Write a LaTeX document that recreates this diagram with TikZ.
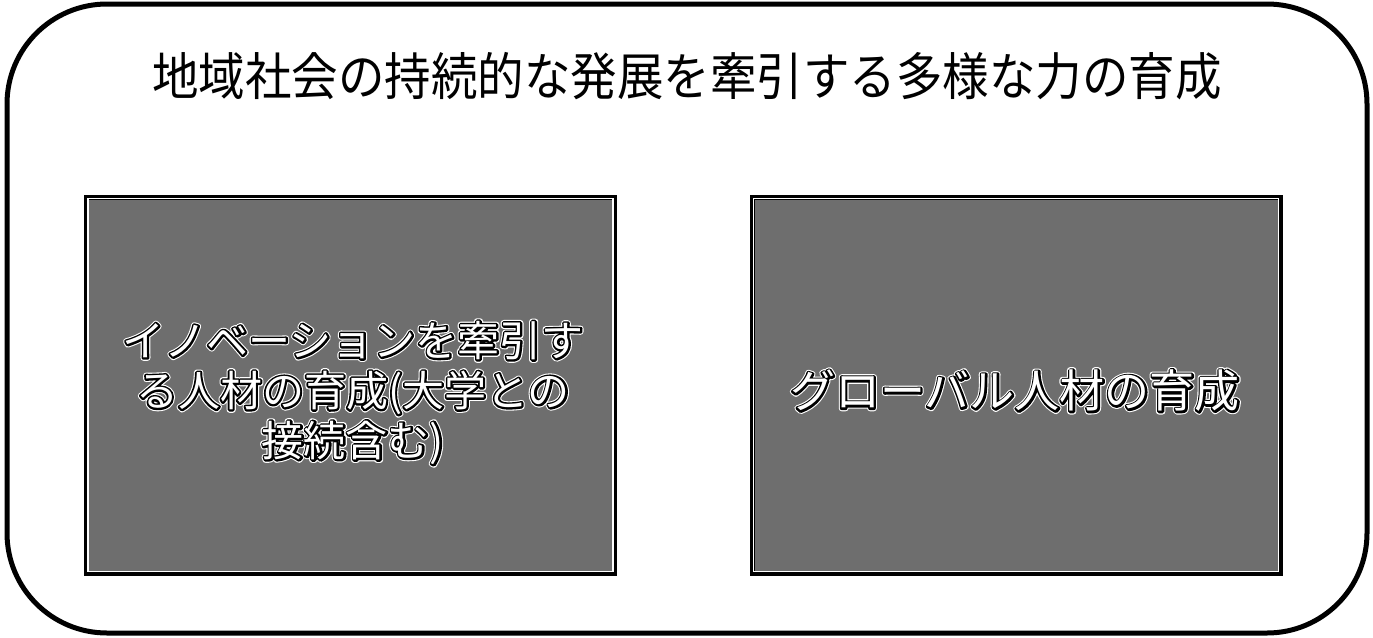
\documentclass[tikz,border=0pt]{standalone}
\usepackage{fontspec}
\newfontfamily\cjk{Noto Sans CJK JP}
\newcommand\strk[3]{\rlap{\special{pdf:literal direct #1 RG #2 w 1 j 1 Tr}#3\special{pdf:literal direct 0 Tr}}}
\newcommand\outl[1]{\strk{1 1 1}{6}{#1}\strk{0 0 0}{3.8}{#1}#1}
\definecolor{dither}{gray}{0.43}
\tikzset{
  frame/.style={draw=black, line width=5pt, rounded corners=100pt},
  graybox/.style={draw=black, line width=5pt, fill=dither, minimum width=528pt, minimum height=376pt, inner sep=0pt},
  innerline/.style={draw=white, line width=1.5pt},
  titletext/.style={font=\cjk\fontsize{46.5}{54}\selectfont, inner sep=0pt},
  boxtext/.style={font=\cjk\fontsize{42}{50}\selectfont, text=white, align=center, inner sep=0pt}
}
\begin{document}
\begin{tikzpicture}[x=1pt,y=-1pt]
\useasboundingbox (0,0) rectangle (1373,637);
\draw[frame] (7,4) rectangle (1367,633);
\node[titletext] (title) at (687,76) {\scalebox{1}[1.1]{地域社会の持続的な発展を牽引する多様な力の育成}};
\node[graybox] (left) at (350.5,385) {};
\node[graybox] (right) at (1016,385) {};
\draw[innerline] ([shift={(4pt,-4pt)}]left.north west) rectangle ([shift={(-4pt,4pt)}]left.south east);
\draw[innerline] ([shift={(4pt,-4pt)}]right.north west) rectangle ([shift={(-4pt,4pt)}]right.south east);
\node[boxtext] (ltext) at (353,393) {\outl{イノベーションを牽引す}\\\outl{る人材の育成(大学との}\\\outl{接続含む)}};
\node[boxtext, font=\cjk\fontsize{45}{50}\selectfont] (rtext) at (1015,391) {\outl{グローバル人材の育成}};
\end{tikzpicture}
\end{document}
